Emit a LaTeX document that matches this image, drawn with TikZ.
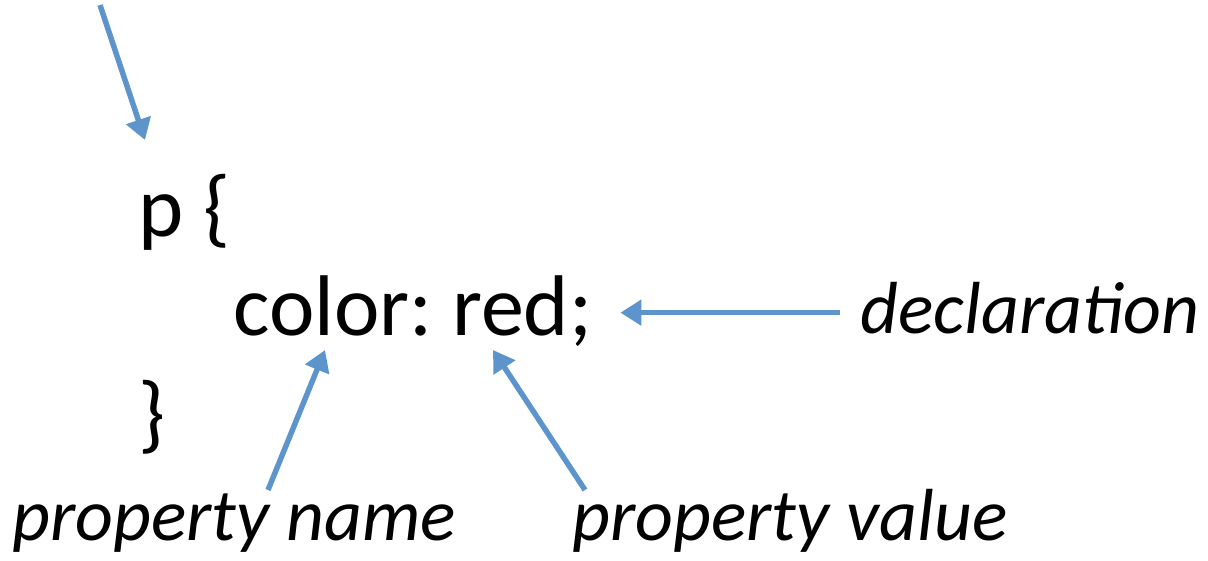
\documentclass[tikz,border=0pt]{standalone}
\usepackage{fontspec}
\setmainfont{Carlito}
\frenchspacing
\definecolor{arrowblue}{RGB}{93, 148, 204}
\usetikzlibrary{arrows.meta, positioning}

\begin{document}
\begin{tikzpicture}[x=0.02cm, y=0.02cm,
  codetext/.style={font=\fontsize{49}{58}\selectfont, inner sep=0pt, anchor=base west},
  labeltext/.style={font=\fontsize{42}{50}\selectfont\itshape, inner sep=0pt},
  pointer/.style={draw=arrowblue, line width=3.1pt, -{Triangle[length=0.42cm, width=0.5cm]}}]
  \useasboundingbox (0, 0) rectangle (1208, -561);

  % The rule
  \node[codetext] (selector) at (138, -236) {p \{};
  \node[codetext] (decl) at (233, -335) {color: red;};
  \node[codetext] (close) at (138, -442) {\}};

  % Labels
  \node[labeltext, anchor=base east] (declabel) at (1200, -333) {declaration};
  \node[labeltext, anchor=base west] (pname) at (12, -540) {property name};
  \node[labeltext, anchor=base west] (pvalue) at (572, -540) {property value};

  % Arrow ends
  \coordinate (topstart) at (100, -5);
  \coordinate (toptip) at (145, -140);
  \coordinate (namestart) at (268, -490);
  \coordinate (nametip) at (325, -350);
  \coordinate (valuestart) at (585, -490);
  \coordinate (valuetip) at (493, -350);

  % Arrows
  \draw[pointer] (topstart) -- (toptip);
  \draw[pointer] ([xshift=-0.4cm, yshift=-0.1cm]declabel.west) -- ([xshift=0.56cm, yshift=-0.1cm]decl.east |- declabel.west);
  \draw[pointer] (namestart) -- (nametip);
  \draw[pointer] (valuestart) -- (valuetip);
\end{tikzpicture}
\end{document}
